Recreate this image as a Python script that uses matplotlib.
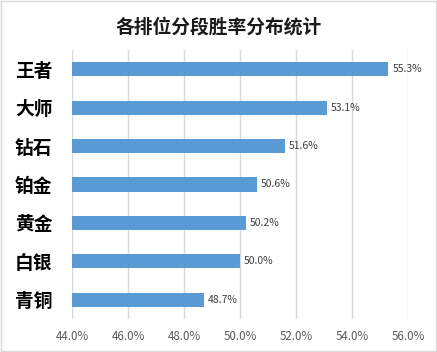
import matplotlib.pyplot as plt
from matplotlib.patches import Rectangle

plt.rcParams['font.family'] = ['Noto Sans CJK SC', 'DejaVu Sans']

# Data
ranks = ['王者', '大师', '钻石', '铂金', '黄金', '白银', '青铜']
win_rates = [55.3, 53.1, 51.6, 50.6, 50.2, 50.0, 48.7]
xticks = [44, 46, 48, 50, 52, 54, 56]

fig = plt.figure(figsize=(4.37, 3.52), dpi=100)
ax = fig.add_axes([0.1648, 0.094, 0.7688, 0.764])

ypos = list(range(len(ranks)))[::-1]
ax.barh(ypos, [v - 44 for v in win_rates], left=44, height=0.37, color='#5B9BD5', zorder=3)

for y, v in zip(ypos, win_rates):
    ax.text(v + 0.15, y, f'{v:.1f}%', va='center', ha='left', fontsize=7.5, color='#404040', zorder=4)

ax.set_xlim(44, 56)
ax.set_ylim(-0.5, len(ranks) - 0.5)
ax.set_xticks(xticks)
ax.set_xticklabels([f'{t:.1f}%' for t in xticks], fontsize=8.3, color='#595959')
ax.set_yticks(ypos)
ax.set_yticklabels(ranks, fontsize=13.5, fontweight='heavy', color='black')
ax.tick_params(axis='both', length=0)
ax.tick_params(axis='y', pad=14)
ax.tick_params(axis='x', pad=8)
ax.grid(axis='x', color='#D9D9D9', linewidth=1, zorder=0)
for s in ax.spines.values():
    s.set_visible(False)

fig.text(0.5, 0.922, '各排位分段胜率分布统计', ha='center', va='center', fontsize=13.5,
         fontweight='heavy', color='#1a1a1a')

fig.patches.append(Rectangle((0.002, 0.003), 0.995, 0.994, transform=fig.transFigure,
                             fill=False, edgecolor='#D9D9D9', linewidth=1))

fig.savefig('out.png', dpi=100)
